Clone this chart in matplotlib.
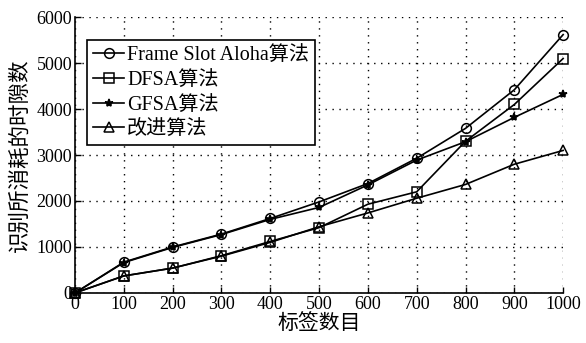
import matplotlib
matplotlib.use("Agg")
import matplotlib.pyplot as plt

plt.rcParams['font.family'] = ['Liberation Serif', 'Noto Sans CJK SC']

tags = [0, 100, 200, 300, 400, 500, 600, 700, 800, 900, 1000]
aloha = [0, 670, 1000, 1280, 1620, 1980, 2380, 2930, 3580, 4420, 5620]
dfsa = [0, 370, 540, 810, 1120, 1420, 1930, 2200, 3300, 4100, 5100]
gfsa = [0, 660, 990, 1270, 1600, 1860, 2350, 2890, 3290, 3820, 4320]
improved = [0, 370, 540, 800, 1100, 1440, 1740, 2060, 2360, 2800, 3100]
labels = ['Frame Slot Aloha算法', 'DFSA算法', 'GFSA算法', '改进算法']

fig = plt.figure(figsize=(5.86, 3.43), dpi=100)
ax = fig.add_axes([0.128, 0.146, 0.833, 0.804])

series = [(aloha, 'o'), (dfsa, 's'), (gfsa, '*'), (improved, '^')]
for (vals, mk), lab in zip(series, labels):
    ax.plot(tags, vals, color='black', lw=1.2, marker=mk, ms=7 if mk != '*' else 6,
            mfc='none' if mk != '*' else 'black', mec='black', mew=1.1,
            label=lab, clip_on=False, zorder=3)

ax.set_xlim(0, 1000)
ax.set_ylim(0, 6000)
ax.set_xticks(range(0, 1001, 100))
ax.set_yticks(range(0, 6001, 1000))
ax.grid(True, linestyle=(0, (1, 4)), color='black', lw=1.0)
ax.spines['top'].set_visible(False)
ax.spines['right'].set_visible(False)
ax.spines['left'].set_linewidth(1.2)
ax.spines['bottom'].set_linewidth(1.2)
ax.tick_params(direction='in', length=4, width=1, labelsize=13, pad=2, colors='black')
ax.set_xlabel('标签数目', fontsize=15, labelpad=1)
ax.set_ylabel('识别所消耗的时隙数', fontsize=15.5, labelpad=4)

leg = ax.legend(loc='upper left', bbox_to_anchor=(0.0246, 0.917), fontsize=14.5,
                frameon=True, fancybox=False, edgecolor='black', framealpha=1,
                handlelength=1.55, handletextpad=0.15, borderpad=0.3, labelspacing=0.28,
                borderaxespad=0)
leg.get_frame().set_linewidth(1.2)

fig.savefig('out.png', dpi=100)
